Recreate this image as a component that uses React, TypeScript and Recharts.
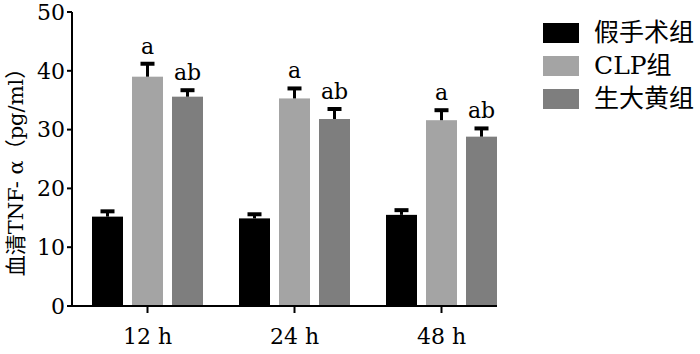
import { BarChart, Bar, XAxis, YAxis } from 'recharts'

const categories = ['12 h', '24 h', '48 h']
const sham = [15.2, 14.9, 15.5]
const shamErr = [0.9, 0.7, 0.8]
const clp = [39.0, 35.3, 31.6]
const clpErr = [2.2, 1.7, 1.7]
const rhubarb = [35.6, 31.8, 28.8]
const rhubarbErr = [1.1, 1.7, 1.4]
const clpSig = ['a', 'a', 'a']
const rhubarbSig = ['ab', 'ab', 'ab']
const yTicks = [0, 10, 20, 30, 40, 50]

const seriesNames = ['假手术组', 'CLP组', '生大黄组']
const colors = ['#000000', '#a4a4a4', '#7e7e7e']

const data = categories.map((c, i) => ({
  time: c,
  sham: sham[i],
  shamErr: shamErr[i],
  shamSig: '',
  clp: clp[i],
  clpErr: clpErr[i],
  clpSig: clpSig[i],
  rhubarb: rhubarb[i],
  rhubarbErr: rhubarbErr[i],
  rhubarbSig: rhubarbSig[i],
}))

const SERIF = '"DejaVu Serif", "Noto Sans CJK SC", serif'

// bar + one-sided error bar + significance letter
function makeShape(key: string) {
  return (props: any) => {
    const { x, y, width, height, payload, fill } = props
    const v = payload[key]
    const scale = v ? height / v : 0
    const yErr = y - payload[key + 'Err'] * scale
    const cx = x + width / 2
    const sig = payload[key + 'Sig']
    return (
      <g>
        <rect x={x} y={y} width={width} height={height} fill={fill} />
        <line x1={cx} x2={cx} y1={y} y2={yErr} stroke="#000" strokeWidth={3} />
        <line x1={cx - 7} x2={cx + 7} y1={yErr} y2={yErr} stroke="#000" strokeWidth={4} />
        {sig ? (
          <text x={cx} y={yErr - 10} textAnchor="middle" fontFamily={SERIF} fontSize={22} fill="#000">
            {sig}
          </text>
        ) : null}
      </g>
    )
  }
}

function LegendBox() {
  return (
    <div style={{ position: 'absolute', left: 543, top: 16, fontFamily: SERIF }}>
      {seriesNames.map((n, i) => (
        <div key={n} style={{ display: 'flex', alignItems: 'center', height: 33 }}>
          <div style={{ width: 36, height: 20, background: colors[i], marginRight: 15 }} />
          <span style={{ fontSize: 25, color: '#000', lineHeight: '25px' }}>{n}</span>
        </div>
      ))}
    </div>
  )
}

function YLabel(props: any) {
  const { viewBox } = props
  const cy = viewBox.y + viewBox.height / 2 + 8
  return (
    <text
      x={16}
      y={cy}
      transform={`rotate(-90, 16, ${cy})`}
      textAnchor="middle"
      dominantBaseline="central"
      fontFamily={SERIF}
      fontSize={21}
      fill="#000"
    >
      血清TNF- α（pg/ml）
    </text>
  )
}

export default function App() {
  return (
    <div style={{ position: 'absolute', left: 0, top: 0, width: 700, height: 354, background: '#fff' }}>
      <BarChart
        width={700}
        height={354}
        data={data}
        margin={{ top: 12, right: 203, bottom: 18, left: 0 }}
        barSize={31}
        barGap={9}
      >
        <XAxis
          dataKey="time"
          height={30}
          padding={{ left: 2, right: -18 }}
          axisLine={{ stroke: '#000', strokeWidth: 2 }}
          tickLine={{ stroke: '#000', strokeWidth: 2 }}
          tickSize={7}
          tickMargin={15}
          tick={{ fill: '#000', fontFamily: SERIF, fontSize: 22 }}
        />
        <YAxis
          width={72}
          domain={[0, 50]}
          ticks={yTicks}
          interval={0}
          axisLine={{ stroke: '#000', strokeWidth: 2 }}
          tickLine={{ stroke: '#000', strokeWidth: 2 }}
          tickSize={5}
          tickMargin={2}
          tick={{ fill: '#000', fontFamily: SERIF, fontSize: 22 }}
          label={<YLabel />}
        />
        <Bar dataKey="sham" name={seriesNames[0]} fill={colors[0]} shape={makeShape('sham')} isAnimationActive={false} />
        <Bar dataKey="clp" name={seriesNames[1]} fill={colors[1]} shape={makeShape('clp')} isAnimationActive={false} />
        <Bar dataKey="rhubarb" name={seriesNames[2]} fill={colors[2]} shape={makeShape('rhubarb')} isAnimationActive={false} />
      </BarChart>
      <LegendBox />
    </div>
  )
}
